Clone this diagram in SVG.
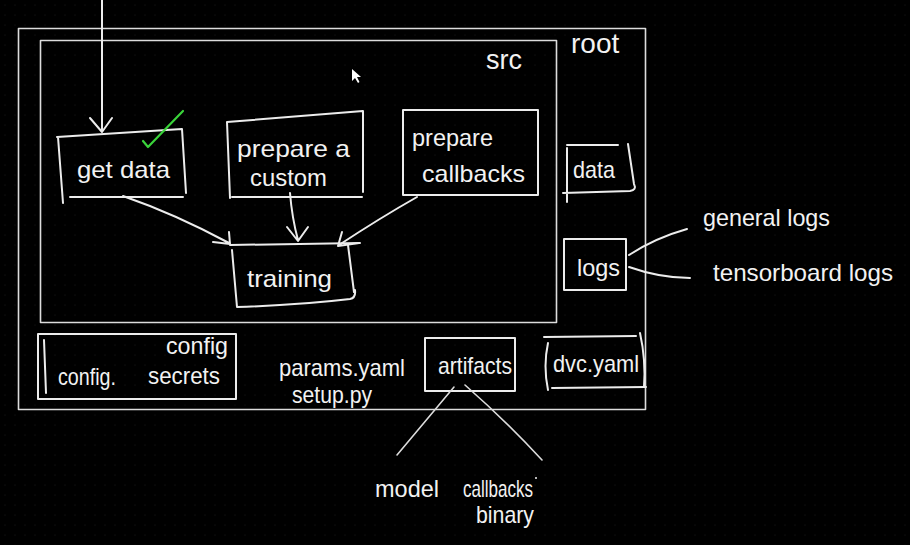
<svg xmlns="http://www.w3.org/2000/svg" width="910" height="545" viewBox="0 0 910 545">
<defs>
<pattern id="dots" width="10" height="10" patternUnits="userSpaceOnUse"><circle cx="5" cy="5" r="0.6" fill="#1e1e1e"/></pattern>
<style>
.s{fill:none;stroke:#ececec;stroke-width:2;stroke-linecap:round;stroke-linejoin:round}
.f{fill:none;stroke:#dcdcdc;stroke-width:1.6;stroke-linecap:round;stroke-linejoin:round}
.t{fill:#f2f2f2;font-family:"Liberation Sans",sans-serif;font-size:24px}
</style>
</defs>
<rect width="910" height="545" fill="#000"/>
<rect width="910" height="545" fill="url(#dots)"/>
<g id="root">
<rect x="18.5" y="28.5" width="627" height="381" class="f"/>
<text class="t" x="571" y="53" style="font-size:28px">root</text>
</g>
<g id="src">
<rect x="40.5" y="40.5" width="516" height="282" class="f"/>
<text class="t" x="486" y="69" style="font-size:27px">src</text>
<path d="M352 69 L352 81 L355 78 L358 83 L359.5 82 L357 77 L361 77 Z" fill="#ffffff"/>
</g>
<g id="get-data">
<path class="s" d="M57 137 L182 129 L186 193 M70 197 L183 197 M58 137 L63 203"/>
<path d="M143 141 L148 147 L183 111" fill="none" stroke="#3ad33a" stroke-width="2.2" stroke-linecap="round" stroke-linejoin="round"/>
<text class="t" x="77" y="178" textLength="93" lengthAdjust="spacingAndGlyphs">get data</text>
</g>
<g id="prepare-custom">
<path class="s" d="M227 122 L363 111 L363 192 M232 197 L362 197 M227 122 L230 198"/>
<text class="t" x="237" y="157" textLength="113" lengthAdjust="spacingAndGlyphs">prepare a</text>
<text class="t" x="250" y="186" textLength="77" lengthAdjust="spacingAndGlyphs">custom</text>
</g>
<g id="prepare-callbacks">
<rect x="403" y="110" width="135" height="85" class="s"/>
<text class="t" x="412" y="146" textLength="81" lengthAdjust="spacingAndGlyphs">prepare</text>
<text class="t" x="422" y="182" textLength="103" lengthAdjust="spacingAndGlyphs">callbacks</text>
</g>
<g id="training">
<path class="s" d="M230 245 L360 243 M232 250 L237 307 Q300 305 350 299 Q356 298 355 290 M348 245 L354 292"/>
<text class="t" x="247" y="287" textLength="85" lengthAdjust="spacingAndGlyphs">training</text>
</g>
<g id="data">
<path class="s" d="M567 145 L618 145 M628 144 L634 184 Q637 190 630 191 L563 193 M567 148 L567 202"/>
<text class="t" x="573" y="178" textLength="42" lengthAdjust="spacingAndGlyphs">data</text>
</g>
<g id="logs">
<rect x="564" y="239" width="62" height="51" class="s"/>
<text class="t" x="577" y="276" textLength="43" lengthAdjust="spacingAndGlyphs">logs</text>
</g>
<g id="general-logs">
<text class="t" x="703" y="226" textLength="127" lengthAdjust="spacingAndGlyphs">general logs</text>
</g>
<g id="tensorboard-logs">
<text class="t" x="713" y="281" textLength="180" lengthAdjust="spacingAndGlyphs">tensorboard logs</text>
</g>
<g id="config">
<rect x="38" y="334" width="198" height="65" class="s"/>
<path class="s" d="M44 340 L46 393"/>
<text class="t" x="58" y="385" textLength="58" lengthAdjust="spacingAndGlyphs">config.</text>
<text class="t" x="166" y="354" textLength="62" lengthAdjust="spacingAndGlyphs">config</text>
<text class="t" x="148" y="384" textLength="72" lengthAdjust="spacingAndGlyphs">secrets</text>
</g>
<g id="params">
<text class="t" x="279" y="376" textLength="126" lengthAdjust="spacingAndGlyphs">params.yaml</text>
<text class="t" x="292" y="403" textLength="80" lengthAdjust="spacingAndGlyphs">setup.py</text>
</g>
<g id="artifacts">
<rect x="425" y="338" width="90" height="53" class="s"/>
<text class="t" x="438" y="374" textLength="74" lengthAdjust="spacingAndGlyphs">artifacts</text>
</g>
<g id="dvc">
<path class="s" d="M544 337 L636 336 M552 388 L646 387 M548 343 Q543 366 548 390 M640 333 Q646 360 644 387"/>
<text class="t" x="553" y="372" textLength="86" lengthAdjust="spacingAndGlyphs">dvc.yaml</text>
</g>
<g id="model">
<text class="t" x="375" y="497" textLength="64" lengthAdjust="spacingAndGlyphs">model</text>
</g>
<g id="callbacks">
<text class="t" x="463" y="497" textLength="70" lengthAdjust="spacingAndGlyphs">callbacks</text>
<circle cx="536" cy="478" r="1" fill="#f2f2f2"/>
</g>
<g id="binary">
<text class="t" x="476" y="523" textLength="58" lengthAdjust="spacingAndGlyphs">binary</text>
</g>
<g id="connectors">
<path class="s" d="M102 0 L102 131 M90 118 L102 132 L112 118"/>
<path class="s" d="M123 196 Q175 214 229 243 M213 242 L230 244 L229 232"/>
<path class="s" d="M290 193 Q292 218 298 240 M287 227 L298 241 L308 227"/>
<path class="s" d="M417 197 Q380 218 339 245 M342 232 L338 246 L359 243"/>
<path class="s" d="M629 255 Q655 238 687 229"/>
<path class="s" d="M629 267 Q660 278 690 278"/>
<path class="f" d="M454 387 L397 455"/>
<path class="f" d="M465 385 Q505 420 542 460"/>
</g>
</svg>
